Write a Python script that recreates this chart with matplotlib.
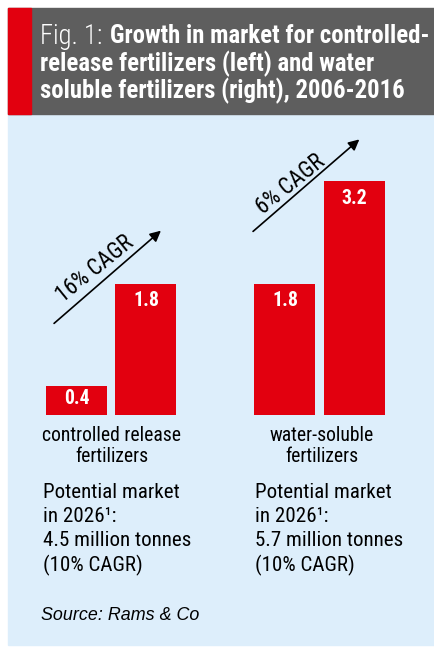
import matplotlib
matplotlib.use('Agg')
import matplotlib.pyplot as plt
from matplotlib import font_manager as fm
from matplotlib.patches import Rectangle

# Growth in market for controlled-release and water soluble fertilizers

W, H = 435, 653
RED = '#e2000f'
GRAY = '#5e5e5e'
BLUE = '#ddeefb'

positions = [0, 1, 3, 4]
values = [0.4, 1.8, 1.8, 3.2]
value_labels = ['0.4', '1.8', '1.8', '3.2']
groups = ['controlled release\nfertilizers', 'water-soluble\nfertilizers']
cagr = ['16% CAGR', '6% CAGR']
potential = ['Potential market\nin 2026\u00b9:\n4.5 million tonnes\n(10% CAGR)',
             'Potential market\nin 2026\u00b9:\n5.7 million tonnes\n(10% CAGR)']
source = 'Source: Rams & Co'

# pick a narrow sans if one is installed
names = {f.name for f in fm.fontManager.ttflist}
narrow = None
for n in ['Liberation Sans Narrow', 'Roboto Condensed', 'Open Sans Condensed',
          'Noto Sans Condensed', 'DejaVu Sans Condensed', 'Arial Narrow']:
    if n in names:
        narrow = n
        break
stretch = 'normal'
if narrow is None:
    for f in fm.fontManager.ttflist:
        if f.name in ('Roboto', 'Noto Sans', 'Open Sans', 'DejaVu Sans') and 'condensed' in str(f.stretch):
            narrow = f.name
            stretch = 'condensed'
            break
if narrow is None:
    narrow = 'Liberation Sans'
FONT = [narrow, 'DejaVu Sans']
plt.rcParams['font.family'] = FONT
plt.rcParams['font.stretch'] = stretch


def fx(x):
    return x / W


def fy(y):
    return 1 - y / H


fig = plt.figure(figsize=(W / 100, H / 100), dpi=100)
fig.patch.set_facecolor('white')
renderer = fig.canvas.get_renderer()


def fit(s, width, **kw):
    # font size that makes the widest line of s about width px wide
    t = fig.text(0, 0, s, fontsize=10, **kw)
    w = t.get_window_extent(renderer).width
    t.remove()
    return 10 * width / w


# background panels
for x0, y0, x1, y1, c in [(8, 114, 435, 645, BLUE), (8, 8, 435, 114, GRAY), (8, 8, 31, 114, RED)]:
    fig.patches.append(Rectangle((fx(x0), fy(y1)), fx(x1 - x0), (y1 - y0) / H,
                                 transform=fig.transFigure, color=c, zorder=-5))

# header text
hs = fit('soluble fertilizers (right), 2006-2016', 366, fontweight='bold')
fs = min(fit('Fig. 1:', 62, fontweight='light'), hs * 1.1)
fig.text(fx(40), fy(36), 'Fig. 1:', color='white', fontsize=fs, va='center',
         fontweight='light')
fig.text(fx(110), fy(36), 'Growth in market for controlled-', color='white',
         fontsize=hs, fontweight='bold', va='center')
fig.text(fx(40), fy(64), 'release fertilizers (left) and water', color='white',
         fontsize=hs, fontweight='bold', va='center')
fig.text(fx(40), fy(91), 'soluble fertilizers (right), 2006-2016', color='white',
         fontsize=hs, fontweight='bold', va='center')

# bar axes: baseline at y=415 px, top at 114 px
unit_x = 69.5
unit_y = 73.0
ax = fig.add_axes([fx(8), fy(415), fx(427), (415 - 114) / H])
ax.set_xlim((8 - 76.5) / unit_x, (435 - 76.5) / unit_x)
ax.set_ylim(0, (415 - 114) / unit_y)
ax.axis('off')

ax.bar(positions, values, width=61 / unit_x, color=RED, zorder=2)
vs = fit('1.8', 26, fontweight='bold')
for p, v, lab in zip(positions, values, value_labels):
    off = (17 if v > 1 else 13) / unit_y
    ax.text(p, v - off, lab, color='white', fontsize=vs, fontweight='bold',
            ha='center', va='center', zorder=3)

# CAGR arrows
arrow_props = dict(arrowstyle='-|>', color='black', lw=1.2, mutation_scale=16)
ax.annotate('', xy=(1.245, 2.55), xytext=(-0.353, 1.23), arrowprops=arrow_props)
ax.annotate('', xy=(4.10, 3.80), xytext=(2.51, 2.49), arrowprops=arrow_props)
cs = fit(cagr[0], 92)
ax.text(0.27, 2.0, cagr[0], rotation=39, fontsize=cs, ha='center', va='center',
        rotation_mode='anchor')
ax.text(3.08, 3.16, cagr[1], rotation=39, fontsize=cs, ha='center', va='center',
        rotation_mode='anchor')

# group labels
gs = fit('controlled release', 138)
fig.text(fx(112), fy(446), groups[0], fontsize=gs, ha='center', va='center',
         linespacing=1.15)
fig.text(fx(322), fy(446), groups[1], fontsize=gs, ha='center', va='center',
         linespacing=1.15)

# potential market
ps = fit('4.5 million tonnes', 141) * 1.05
fig.text(fx(43), fy(483), potential[0], fontsize=ps, ha='left', va='top',
         linespacing=1.32)
fig.text(fx(255), fy(483), potential[1], fontsize=ps, ha='left', va='top',
         linespacing=1.32)

ss = fit(source, 158, style='italic', family=['Liberation Sans', 'DejaVu Sans'])
fig.text(fx(41), fy(615), source, fontsize=ss, style='italic', ha='left',
         va='center', family=['Liberation Sans', 'DejaVu Sans'])

fig.savefig('out.png', dpi=100)
